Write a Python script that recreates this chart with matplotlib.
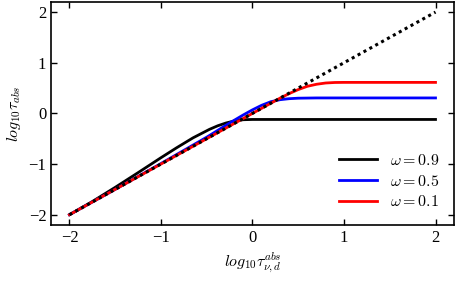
import matplotlib
matplotlib.use("Agg")
import matplotlib.pyplot as plt

plt.rcParams['font.family'] = ['Liberation Serif', 'DejaVu Serif']
plt.rcParams['mathtext.fontset'] = 'cm'

# omega = 0.9
x_w09 = [-2.0, -1.75, -1.5, -1.25, -1.0, -0.83, -0.65, -0.47, -0.38, -0.29, -0.2, -0.1, 0.0, 0.5, 1.0, 1.5, 2.0]
y_w09 = [-2.0, -1.74, -1.46, -1.17, -0.875, -0.68, -0.483, -0.315, -0.245, -0.19, -0.15, -0.125, -0.12, -0.12, -0.12, -0.12, -0.12]

# omega = 0.5
x_w05 = [-2.0, -1.5, -1.0, -0.75, -0.5, -0.25, -0.1, 0.0, 0.1, 0.2, 0.3, 0.4, 0.5, 0.7, 1.0, 1.5, 2.0]
y_w05 = [-2.0, -1.5, -0.99, -0.73, -0.47, -0.19, -0.03, 0.07, 0.16, 0.23, 0.27, 0.29, 0.30, 0.305, 0.305, 0.305, 0.305]

# omega = 0.1
x_w01 = [-2.0, -1.0, 0.0, 0.2, 0.3, 0.4, 0.5, 0.6, 0.7, 0.8, 0.9, 1.0, 1.5, 2.0]
y_w01 = [-2.0, -1.0, 0.0, 0.2, 0.3, 0.39, 0.47, 0.535, 0.575, 0.60, 0.61, 0.612, 0.612, 0.612]

# reference line y = x
x_ref = [-2.0, 2.0]
y_ref = [-2.0, 2.0]

labels = [r'$\omega=0.9$', r'$\omega=0.5$', r'$\omega=0.1$']
colors = ['black', 'blue', 'red']

fig = plt.figure(figsize=(4.57, 2.81), dpi=100)
ax = fig.add_axes([0.112, 0.200, 0.881, 0.793])

ax.plot(x_w09, y_w09, color=colors[0], lw=2, label=labels[0])
ax.plot(x_w05, y_w05, color=colors[1], lw=2, label=labels[1])
ax.plot(x_w01, y_w01, color=colors[2], lw=2, label=labels[2])
ax.plot(x_ref, y_ref, color='black', lw=2.2, linestyle=(0, (1, 1.2)))

ax.set_xlim(-2.2, 2.2)
ax.set_ylim(-2.2, 2.2)
ax.set_xticks([-2, -1, 0, 1, 2])
ax.set_yticks([-2, -1, 0, 1, 2])
ax.tick_params(direction='in', top=True, right=True, length=4, width=1, labelsize=12)
for s in ax.spines.values():
    s.set_linewidth(1.2)

ax.set_xlabel(r'$log_{10}\tau_{\nu,d}^{abs}$', fontsize=11.5)
ax.set_ylabel(r'$log_{10}\tau_{abs}$', fontsize=11.5)

ax.legend(loc='lower right', frameon=False, fontsize=11.5, handlelength=2.4,
          labelspacing=0.3, borderaxespad=0.5)

fig.savefig('out.png', dpi=100)
